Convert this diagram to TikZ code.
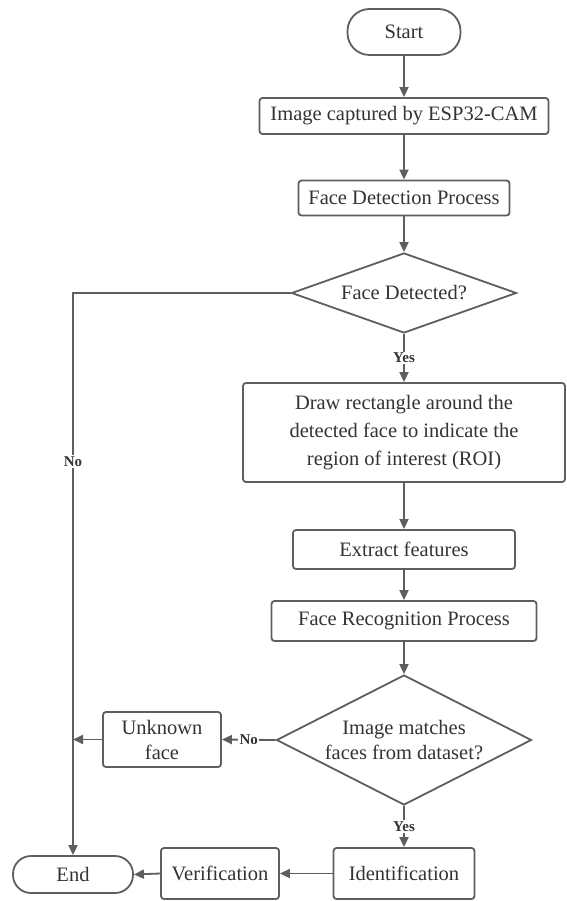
\documentclass[tikz,border=0pt]{standalone}
\usepackage{fontspec}
\setmainfont{Liberation Serif}
\usetikzlibrary{arrows.meta,shapes.geometric}
\definecolor{ln}{HTML}{5E5E5E}
\definecolor{tx}{HTML}{333333}
\tikzset{
  box/.style={draw=ln, line width=1.8pt, rounded corners=3pt, fill=white,
    text=tx, font=\fontsize{20.5}{28}\selectfont, align=center, inner sep=0pt},
  term/.style={box, rounded corners=18pt},
  dec/.style={draw=ln, line width=1.8pt, diamond, fill=white, text=tx,
    font=\fontsize{20.5}{25}\selectfont, align=center, inner sep=0pt},
  arr/.style={draw=ln, line width=1.8pt, -{Triangle[length=10pt,width=9pt]}},
  lab/.style={fill=white, text=tx, font=\fontsize{15}{17}\selectfont\bfseries, inner sep=1.5pt}
}
\begin{document}
\begin{tikzpicture}[x=1pt,y=-1pt]
\useasboundingbox (0,0) rectangle (566,901);
\node[term, minimum width=113, minimum height=46, rounded corners=22pt] (start) at (404,32) {Start};
\node[box, minimum width=289, minimum height=36] (img) at (404,116) {Image captured by ESP32-CAM};
\node[box, minimum width=211, minimum height=35] (fdp) at (404,198) {Face Detection Process};
\node[dec, aspect=2.81, minimum width=225, minimum height=80] (d1) at (404,293) {Face Detected?};
\node[box, minimum width=322, minimum height=99] (roi) at (404,432.5) {Draw rectangle around the\\detected face to indicate the\\region of interest (ROI)};
\node[box, minimum width=222, minimum height=39] (ext) at (404,549.5) {Extract features};
\node[box, minimum width=265, minimum height=40] (frp) at (404,621) {Face Recognition Process};
\node[dec, aspect=1.96, minimum width=255, minimum height=130] (d2) at (404,740) {Image matches\\faces from dataset?};
\node[box, minimum width=118, minimum height=55, font=\fontsize{20.5}{25}\selectfont] (unk) at (162,739.5) {Unknown\\face};
\node[box, minimum width=141, minimum height=51] (idn) at (404,873.5) {Identification};
\node[box, minimum width=118, minimum height=51] (ver) at (220,873.5) {Verification};
\node[term, minimum width=120, minimum height=37] (endn) at (73,874.5) {End};

\draw[arr] (start.south) -- (img.north);
\draw[arr] (img.south) -- (fdp.north);
\draw[arr] (fdp.south) -- (d1.north);
\draw[arr] (d1.south) -- node[lab] {Yes} (roi.north);
\draw[arr] (d1.west) -| node[lab, pos=0.65] {No} (endn.north);
\draw[arr] (roi.south) -- (ext.north);
\draw[arr] (ext.south) -- (frp.north);
\draw[arr] (frp.south) -- (d2.north);
\draw[arr] (d2.west) -- node[lab] {No} (unk.east);
\draw[arr] (unk.west) -- (unk.west -| endn.north);
\draw[arr] (d2.south) -- node[lab] {Yes} (idn.north);
\draw[arr] (idn.west) -- (ver.east);
\draw[arr] (ver.west) -- (endn.east);
\end{tikzpicture}
\end{document}
